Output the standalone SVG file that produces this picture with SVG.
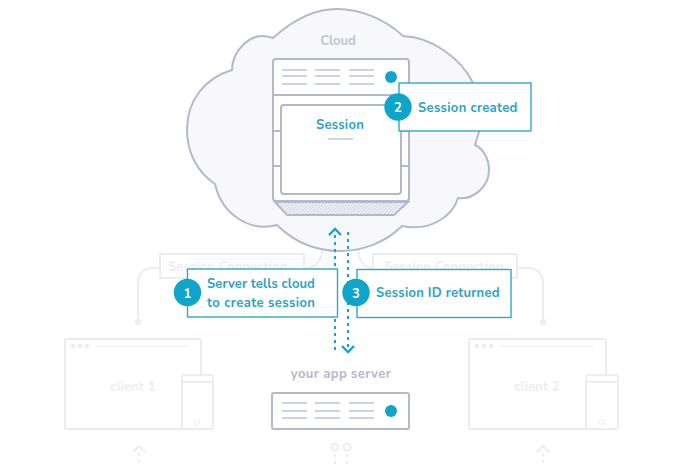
<svg xmlns="http://www.w3.org/2000/svg" width="674" height="467" viewBox="0 0 674 467">
<style>
text{font-family:"Nunito","Noto Sans","DejaVu Sans",sans-serif;font-weight:700}
.blue{fill:#2ba3bf;font-size:13px;letter-spacing:.25px}
.faint{fill:none;stroke:#ecedf3;stroke-width:2}
.ftxt{fill:#ecedf3;font-size:13px;letter-spacing:.1px}
.g{fill:none;stroke:#b3b8cc;stroke-width:2}
.thin{fill:none;stroke:#c0c3d3;stroke-width:1.4}
.card{fill:#fff;stroke:#2ea9c8;stroke-width:1.4}
.dot{fill:#0ea5c8}
.num{fill:#fff;font-size:13px;text-anchor:middle}
.dash{fill:none;stroke:#16a5c6;stroke-width:2;stroke-dasharray:3 4}
.head{fill:none;stroke:#16a5c6;stroke-width:2.4}
.fdash{fill:none;stroke:#ecedf3;stroke-width:2;stroke-dasharray:3 4}
</style>
<defs>
<pattern id="hatch" width="2.4" height="2.4" patternUnits="userSpaceOnUse" patternTransform="rotate(45)"><rect width="2.4" height="2.4" fill="#f2f2f6"/><line x1="0" y1="0" x2="0" y2="2.4" stroke="#b3b8cc" stroke-width="1"/></pattern>
</defs>
<g id="connectors-faint">
<path class="faint" d="M138 322V284Q138 268 154 268H160"/>
<path class="faint" d="M543 322V284Q543 268 527 268H517"/>
<path class="faint" d="M304 268Q323 268 323 245"/>
<path class="faint" d="M373 268Q358 268 358 245"/>
<circle cx="138" cy="322" r="3.2" fill="#ecedf3"/>
<circle cx="543" cy="322" r="3.2" fill="#ecedf3"/>
<rect class="faint" x="160" y="254" width="144" height="24"/>
<rect class="faint" x="373" y="254" width="144" height="24"/>
<text class="ftxt" x="168" y="271">Session Connection</text>
<text class="ftxt" x="384" y="271">Session Connection</text>
</g>
<g id="cloud">
<path d="M273 38C295 18 315 9 337 9C360 9 385 19 403 36C433 37 462 60 473 83C480 95 484 115 479 132L475 145C484 149 489 160 489 170C489 187 473 200 458 198C453 216 430 232 402 226C385 243 362 251 340 251C318 251 295 243 277 225C250 232 222 215 215 184C197 172 187 152 187 130C187 100 205 78 232 70C232 50 250 36 262 36C266 36 270 37 273 38Z" fill="#f8f8fb" stroke="#b3b8cc" stroke-width="2"/>
<text x="338" y="45" text-anchor="middle" font-size="13" fill="#c0c3d3">Cloud</text>
</g>
<g id="cloud-server">
<path d="M275 202L287 215H394L408 202Z" fill="url(#hatch)" stroke="#b3b8cc" stroke-width="2"/>
<rect x="273" y="59" width="136" height="142" rx="3" fill="#fff" stroke="#b3b8cc" stroke-width="2"/>
<path class="g" d="M273 95H409M273 131H409M273 166H409"/>
<path class="thin" d="M282 70H307M282 76H307M282 84H307M315 70H340M315 76H340M315 84H340M349 70H374M349 76H374M349 84H374"/>
<circle class="dot" cx="391" cy="77" r="6"/>
<rect x="281" y="105" width="120" height="89" rx="3" fill="#fff" stroke="#b3b8cc" stroke-width="2"/>
<text x="340" y="129" text-anchor="middle" class="blue">Session</text>
<path class="thin" d="M328 139H353"/>
</g>
<g id="connectors">
<path class="dash" d="M335 235V354"/>
<path class="dash" d="M348 232V350"/>
<path class="head" d="M329 235L335 229L341 235"/>
<path class="head" d="M342 346L348 352L354 346"/>
</g>
<g id="step-2">
<rect class="card" x="399" y="83" width="132" height="48"/>
<circle class="dot" cx="398" cy="107" r="13.7"/>
<text class="num" x="398" y="112">2</text>
<text class="blue" x="418" y="112" style="letter-spacing:.32px">Session created</text>
</g>
<g id="step-1">
<rect class="card" x="187.5" y="269" width="150" height="48"/>
<circle class="dot" cx="187.5" cy="292.5" r="13.7"/>
<text class="num" x="187.5" y="297.5">1</text>
<text class="blue" x="207" y="288" style="letter-spacing:.1px">Server tells cloud</text>
<text class="blue" x="207" y="307" style="letter-spacing:.42px">to create session</text>
</g>
<g id="step-3">
<rect class="card" x="357" y="269.5" width="154" height="48"/>
<circle class="dot" cx="356" cy="292.5" r="13.7"/>
<text class="num" x="356" y="297.5">3</text>
<text class="blue" x="376" y="297">Session ID returned</text>
</g>
<g id="client-1">
<rect class="faint" x="65" y="339" width="136" height="90" rx="2"/>
<circle cx="73" cy="346" r="2.2" fill="#ecedf3"/><circle cx="80" cy="346" r="2.2" fill="#ecedf3"/><circle cx="87" cy="346" r="2.2" fill="#ecedf3"/>
<path fill="none" stroke="#ecedf3" stroke-width="1.2" d="M95 346H190"/>
<rect x="182" y="375" width="31" height="54" rx="2" fill="#fff" stroke="#ecedf3" stroke-width="2"/>
<path class="faint" stroke-width="1" d="M182 382H213"/>
<circle cx="197" cy="422" r="2.5" fill="none" stroke="#ecedf3"/>
<text class="ftxt" x="133" y="391" text-anchor="middle">client 1</text>
</g>
<g id="client-2">
<rect class="faint" x="469" y="339" width="137" height="90" rx="2"/>
<circle cx="477" cy="346" r="2.2" fill="#ecedf3"/><circle cx="484" cy="346" r="2.2" fill="#ecedf3"/><circle cx="491" cy="346" r="2.2" fill="#ecedf3"/>
<path fill="none" stroke="#ecedf3" stroke-width="1.2" d="M499 346H594"/>
<rect x="586" y="375" width="32" height="54" rx="2" fill="#fff" stroke="#ecedf3" stroke-width="2"/>
<path class="faint" d="M586 382H618"/>
<circle cx="602" cy="422" r="2.5" fill="none" stroke="#ecedf3"/>
<text class="ftxt" x="537" y="391" text-anchor="middle">client 2</text>
</g>
<g id="app-server">
<text x="341" y="378" text-anchor="middle" font-size="13" letter-spacing=".4" fill="#b3b8cc">your app server</text>
<rect x="272" y="393" width="137" height="36" rx="2" fill="#fff" stroke="#b3b8cc" stroke-width="2"/>
<path class="thin" d="M282 403H307M282 411H307M282 418H307M315 403H340M315 411H340M315 418H340M349 403H374M349 411H374M349 418H374"/>
<circle class="dot" cx="391" cy="411" r="6"/>
</g>
<g id="connectors-bottom">
<path class="faint" d="M133 452L139 446L145 452"/><path class="fdash" d="M139 453V467"/>
<path class="faint" d="M537 452L543 446L549 452"/><path class="fdash" d="M543 453V467"/>
<circle cx="335" cy="447" r="3.5" class="faint"/><circle cx="347" cy="447" r="3.5" class="faint"/>
<path class="fdash" d="M335 454V467M347 454V467"/>
</g>
</svg>
